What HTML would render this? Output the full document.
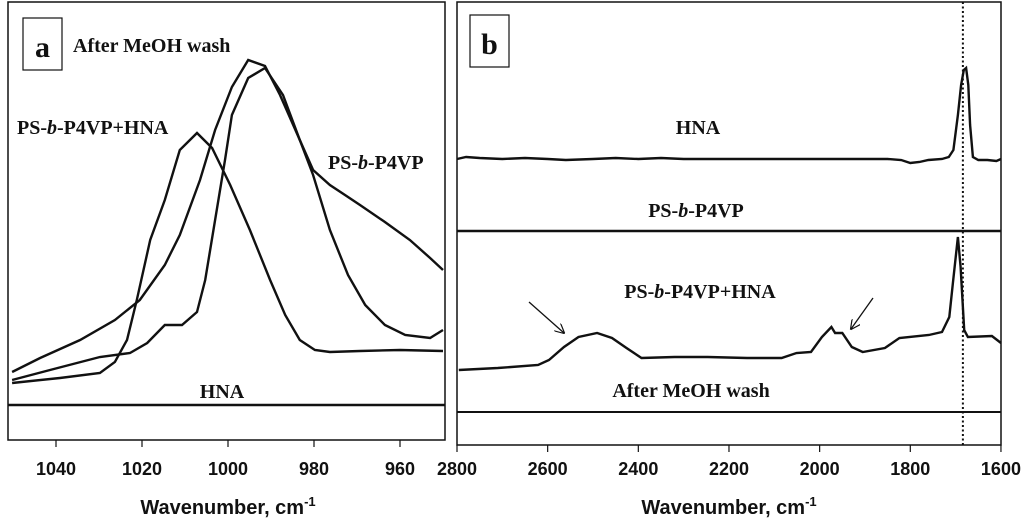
<!DOCTYPE html>
<html><head><meta charset="utf-8"><style>
html,body{margin:0;padding:0;background:#fff;}
svg{display:block;}
.lab{font-family:"Liberation Serif",serif;font-weight:bold;font-size:20px;fill:#111;}
.tick{font-family:"Liberation Sans",sans-serif;font-weight:bold;font-size:18px;fill:#111;}
.ttl{font-family:"Liberation Sans",sans-serif;font-weight:bold;font-size:20px;fill:#111;}
</style></head><body>
<svg id="fig" width="1024" height="527" viewBox="0 0 1024 527" xmlns="http://www.w3.org/2000/svg">
<defs><marker id="ah" markerWidth="10" markerHeight="10" refX="9" refY="5" orient="auto" markerUnits="userSpaceOnUse"><path d="M0,0 L10,5 L0,10" fill="none" stroke="#111" stroke-width="1.2"/></marker></defs>
<g id="pa"></g>
<g id="pb"></g>
<g>
<rect x="23" y="18" width="39" height="52" fill="#fff" stroke="#111" stroke-width="1.2"/>
<text x="42.5" y="57" text-anchor="middle" class="lab" style="font-size:30px">a</text>
<text x="73" y="52" class="lab">After MeOH wash</text>
<text x="17" y="134" class="lab">PS-<tspan font-style="italic">b</tspan>-P4VP+HNA</text>
<text x="328" y="169" class="lab">PS-<tspan font-style="italic">b</tspan>-P4VP</text>
<text x="222" y="398" text-anchor="middle" class="lab">HNA</text>
<text x="228" y="514" text-anchor="middle" class="ttl">Wavenumber, cm<tspan dy="-8" font-size="13">-1</tspan></text>
<rect x="470" y="15" width="39" height="52" fill="#fff" stroke="#111" stroke-width="1.2"/>
<text x="489.5" y="54" text-anchor="middle" class="lab" style="font-size:30px">b</text>
<text x="698" y="134" text-anchor="middle" class="lab">HNA</text>
<text x="696" y="217" text-anchor="middle" class="lab">PS-<tspan font-style="italic">b</tspan>-P4VP</text>
<text x="700" y="298" text-anchor="middle" class="lab">PS-<tspan font-style="italic">b</tspan>-P4VP+HNA</text>
<text x="691" y="397" text-anchor="middle" class="lab">After MeOH wash</text>
<line x1="529" y1="302" x2="564" y2="333" stroke="#111" stroke-width="1.3" marker-end="url(#ah)"/>
<line x1="873" y1="298" x2="851" y2="329" stroke="#111" stroke-width="1.3" marker-end="url(#ah)"/>
<text x="729" y="514" text-anchor="middle" class="ttl">Wavenumber, cm<tspan dy="-8" font-size="13">-1</tspan></text>
</g>
</svg>
<script>
// Panel a data (wavenumber, intensity a.u.)
const aTicks=[1040,1020,1000,980,960];
const aHnaPlusW=[1050.2,1039.1,1029.8,1026.3,1023.5,1021.2,1018.1,1014.7,1011.2,1007.2,1003.7,999.5,994.9,990.2,986.7,983.3,979.8,976.3,969.3,960,950];
const aHnaPlusV=[57,62,67,78,100,140,200,240,290,307,292,255,210,160,125,100,90,88,89,90,89];
const aWashW=[1050.2,1043.7,1034.4,1026.3,1020.5,1014.7,1011.2,1006.5,1003,999.1,995.3,991.4,987.9,983.3,980.2,976.3,972.1,968.1,963.5,958.8,953,950];
const aWashV=[68,82,100,120,140,175,205,260,310,353,380,374,345,300,265,210,165,135,115,105,102,110];
const aP4vpW=[1050.2,1041.4,1029.8,1022.8,1018.8,1014.7,1010.7,1007.2,1005.3,1003,1000.7,999.1,995.3,991.4,987.2,983.3,980.2,976.3,972.8,969.3,963.5,957.7,953,950];
const aP4vpV=[60,70,83,87,97,115,115,128,160,220,280,325,362,372,345,300,270,255,245,235,218,200,182,170];
const aHnaV=35;
// Panel b data
const bTicks=[2800,2600,2400,2200,2000,1800,1600];
const bHnaW=[2800,2780,2750,2700,2650,2600,2560,2500,2450,2400,2350,2300,2250,2200,2150,2100,2050,2000,1950,1900,1850,1820,1800,1780,1760,1730,1715,1705,1695,1688,1682,1677,1672,1668,1662,1650,1630,1610,1600];
const bHnaV=[286,288,287,286,287,286,285,286,287,286,287,286,286,286,286,286,286,286,286,286,286,285,282,283,285,286,288,295,330,360,375,377,360,320,288,285,285,284,286];
const bP4vpV=214;
const bHnaPlusW=[2796,2710,2621,2597,2564,2532,2491,2458,2426,2393,2320,2247,2160,2084,2051,2019,1995,1974,1966,1950,1929,1905,1856,1824,1759,1730,1714,1706,1695,1689,1681,1673,1620,1600];
const bHnaPlusV=[75,77,80,85,98,108,112,107,97,87,88,88,87,87,92,93,108,118,112,112,98,93,97,107,110,113,128,162,208,178,115,108,109,102];
const bWashV=33;
const bDotted=1684;

const NS="http://www.w3.org/2000/svg";
function mk(parent,tag,attrs,text){const e=document.createElementNS(NS,tag);for(const k in attrs)e.setAttribute(k,attrs[k]);if(text!==undefined)e.textContent=text;parent.appendChild(e);return e;}
function pathD(ws,vs,xs,ys){return ws.map((w,i)=>(i?'L':'M')+xs(w).toFixed(1)+','+ys(vs[i]).toFixed(1)).join(' ');}

// ---- Panel A ----
const pa=document.getElementById('pa');
const axA=w=>56+(1040-w)*4.3;
const ayA=v=>440-v;
let f=mk(pa,'rect',{x:8,y:2,width:437,height:438,fill:'none',stroke:'#111','stroke-width':1.5});


aTicks.forEach(t=>{
 let l=mk(pa,'line',{x1:axA(t),x2:axA(t),y1:440,y2:447,stroke:'#111','stroke-width':1.2});
 
 
 let tx=mk(pa,'text',{x:axA(t),y:475,'text-anchor':'middle',class:'tick'},String(t));
 
 
});
let s;
s=mk(pa,'path',{d:pathD(aHnaPlusW,aHnaPlusV,axA,ayA),fill:'none',stroke:'#111','stroke-width':2.4});


s=mk(pa,'path',{d:pathD(aWashW,aWashV,axA,ayA),fill:'none',stroke:'#111','stroke-width':2.4});


s=mk(pa,'path',{d:pathD(aP4vpW,aP4vpV,axA,ayA),fill:'none',stroke:'#111','stroke-width':2.4});


s=mk(pa,'line',{x1:8,x2:445,y1:ayA(aHnaV),y2:ayA(aHnaV),stroke:'#111','stroke-width':2.6});



// ---- Panel B ----
const pb=document.getElementById('pb');
const axB=w=>457+(2800-w)*0.4533;
const ayB=v=>445-v;
f=mk(pb,'rect',{x:457,y:2,width:544,height:443,fill:'none',stroke:'#111','stroke-width':1.5});


bTicks.forEach(t=>{
 let l=mk(pb,'line',{x1:axB(t),x2:axB(t),y1:445,y2:452,stroke:'#111','stroke-width':1.2});
 
 
 let tx=mk(pb,'text',{x:axB(t),y:475,'text-anchor':'middle',class:'tick'},String(t));
 
 
});
s=mk(pb,'path',{d:pathD(bHnaW,bHnaV,axB,ayB),fill:'none',stroke:'#111','stroke-width':2.4});


s=mk(pb,'line',{x1:457,x2:1001,y1:ayB(bP4vpV),y2:ayB(bP4vpV),stroke:'#111','stroke-width':2.6});


s=mk(pb,'path',{d:pathD(bHnaPlusW,bHnaPlusV,axB,ayB),fill:'none',stroke:'#111','stroke-width':2.4});


s=mk(pb,'line',{x1:457,x2:1001,y1:ayB(bWashV),y2:ayB(bWashV),stroke:'#111','stroke-width':2});


s=mk(pb,'line',{x1:axB(bDotted),x2:axB(bDotted),y1:2,y2:445,stroke:'#111','stroke-width':2,'stroke-dasharray':'2,2.5'});


</script>
</body></html>
